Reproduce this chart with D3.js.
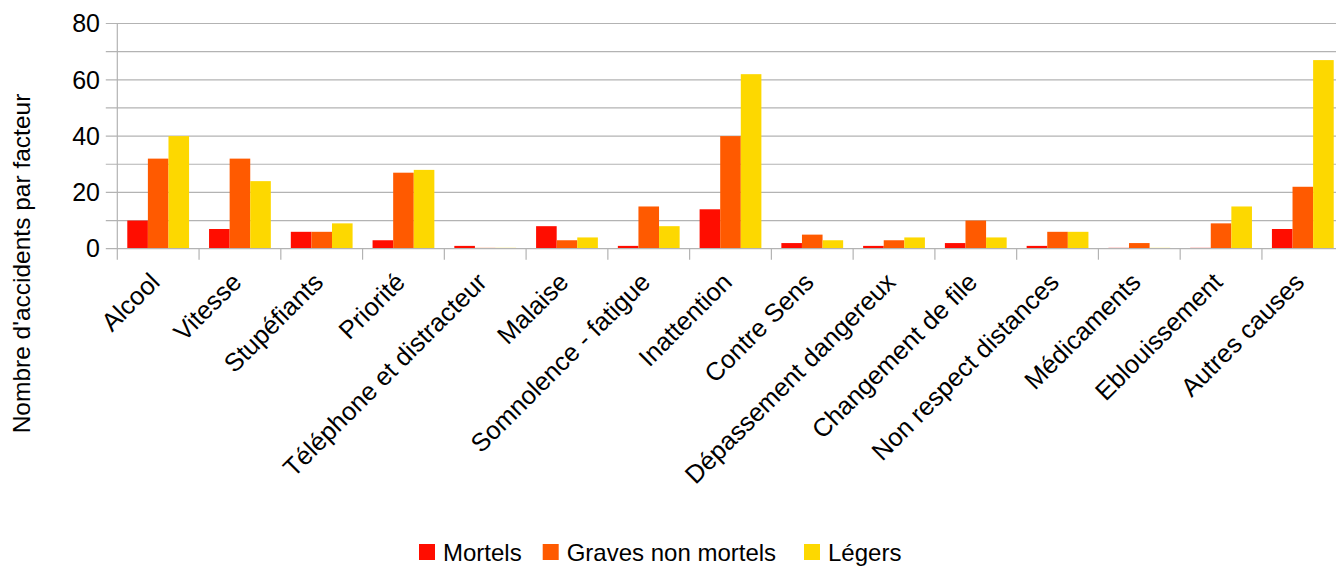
<!DOCTYPE html>
<html><head><meta charset="utf-8">
<script src="https://cdn.jsdelivr.net/npm/d3@7"></script>
<style>body{margin:0;background:#fff}svg{display:block;font-family:"Liberation Sans",Arial,sans-serif}</style>
</head><body><svg id="c" width="1336" height="567"></svg>
<script>
const categories = ["Alcool","Vitesse","Stupéfiants","Priorité","Téléphone et distracteur","Malaise","Somnolence - fatigue","Inattention","Contre Sens","Dépassement dangereux","Changement de file","Non respect distances","Médicaments","Eblouissement","Autres causes"];
const seriesNames = ["Mortels","Graves non mortels","Légers"];
const mortels = [10,7,6,3,1,8,1,14,2,1,2,1,0.3,0.3,7];
const graves  = [32,32,6,27,0.3,3,15,40,5,3,10,6,2,9,22];
const legers  = [40,24,9,28,0.3,4,8,62,3,4,4,6,0.3,15,67];
const yTicks = [0,20,40,60,80];
const colors = ["#ff0d00","#ff5a00","#fdd800"];
const series = [mortels, graves, legers];

const svg = d3.select("#c");
const pLeft = 117.3, pRight = 1343.7, pTop = 23.5, pBottom = 248.7;
const x = d3.scaleBand().domain(categories).range([pLeft, pRight]).paddingInner(0).paddingOuter(0);
const x1 = d3.scaleBand().domain(seriesNames).range([0, x.bandwidth()]).paddingInner(0).paddingOuter(0.485);
const y = d3.scaleLinear().domain([0,80]).range([pBottom, pTop]);

// gridlines
svg.append("g").selectAll("line").data(d3.range(10,81,10)).join("line")
  .attr("x1", pLeft - 11.5).attr("x2", 1336).attr("y1", d=>y(d)).attr("y2", d=>y(d))
  .attr("stroke","#b3b3b3").attr("stroke-width",1.2);

// bars
const g = svg.append("g");
series.forEach((vals, si) => {
  g.selectAll(null).data(vals).join("rect")
    .attr("x", (d,i)=>x(categories[i]) + x1(seriesNames[si]))
    .attr("width", x1.bandwidth())
    .attr("y", d=>y(d)).attr("height", d=>y(0)-y(d))
    .attr("fill", colors[si]);
});

// axes lines
svg.append("line").attr("x1",pLeft).attr("x2",pLeft).attr("y1",pTop).attr("y2",pBottom+11).attr("stroke","#b3b3b3").attr("stroke-width",1.2);
svg.append("line").attr("x1",pLeft-11.5).attr("x2",1336).attr("y1",pBottom).attr("y2",pBottom).attr("stroke","#b3b3b3").attr("stroke-width",1.2);
svg.append("g").selectAll("line").data(categories.slice(1)).join("line")
  .attr("x1",d=>x(d)).attr("x2",d=>x(d)).attr("y1",pBottom).attr("y2",pBottom+11)
  .attr("stroke","#b3b3b3").attr("stroke-width",1.2);

// y tick labels
svg.append("g").selectAll("text").data(yTicks).join("text")
  .attr("x", 100).attr("y", d=>y(d)).attr("dy","0.35em")
  .attr("text-anchor","end").attr("font-size",25).attr("fill","#000").text(d=>d);

// category labels
svg.append("g").selectAll("text").data(categories).join("text")
  .attr("transform", d=>`translate(${x(d)+x.bandwidth()/2+3},${pBottom+35}) rotate(-45)`)
  .attr("text-anchor","end").attr("font-size",25.5).attr("fill","#000").text(d=>d);

// y title
svg.append("text").attr("transform",`translate(30,${(95+432)/2}) rotate(-90)`)
  .attr("text-anchor","middle").attr("font-size",24.5).attr("fill","#000").text("Nombre d'accidents par facteur");

// legend
const legX = [419, 542.7, 804];
const lg = svg.append("g");
seriesNames.forEach((n,i)=>{
  lg.append("rect").attr("x",legX[i]).attr("y",544).attr("width",16).attr("height",16).attr("fill",colors[i]);
  lg.append("text").attr("x",legX[i]+24).attr("y",561).attr("font-size",24).attr("fill","#000").text(n);
});
</script></body></html>
